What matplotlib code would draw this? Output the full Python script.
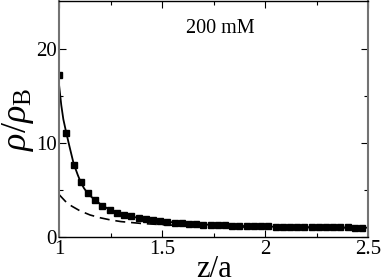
import matplotlib
matplotlib.use("Agg")
import matplotlib.pyplot as plt
import numpy as np

plt.rcParams['font.family'] = ['Liberation Serif', 'DejaVu Serif']
plt.rcParams['mathtext.fontset'] = 'custom'
plt.rcParams['mathtext.rm'] = 'Liberation Serif'
plt.rcParams['mathtext.it'] = 'Liberation Serif:italic'

# simulation points (squares)
z_sim = [1.000, 1.035, 1.070, 1.105, 1.140, 1.175, 1.210, 1.245, 1.280, 1.315,
         1.350, 1.385, 1.420, 1.455, 1.490, 1.525, 1.560, 1.595, 1.630, 1.665,
         1.700, 1.735, 1.770, 1.805, 1.840, 1.875, 1.910, 1.945, 1.980, 2.015,
         2.050, 2.085, 2.120, 2.155, 2.190, 2.225, 2.260, 2.295, 2.330, 2.365,
         2.400, 2.435, 2.470]
rho_sim = [17.2, 11.0, 7.7, 5.8, 4.65, 3.9, 3.35, 2.9, 2.6, 2.38,
           2.2, 2.05, 1.92, 1.8, 1.7, 1.62, 1.55, 1.48, 1.43, 1.38,
           1.34, 1.30, 1.27, 1.24, 1.22, 1.20, 1.18, 1.16, 1.14, 1.13,
           1.12, 1.10, 1.09, 1.08, 1.07, 1.06, 1.05, 1.05, 1.04, 1.03,
           1.03, 1.02, 1.02]

# theory (solid)
z_th = [1.0, 1.01, 1.02, 1.035, 1.05, 1.07, 1.09, 1.105, 1.12, 1.14, 1.175,
        1.21, 1.25, 1.3, 1.35, 1.4, 1.5, 1.6, 1.7, 1.8, 2.0, 2.2, 2.5]
rho_th = [16.0, 14.0, 12.5, 11.0, 9.6, 7.8, 6.6, 5.8, 5.2, 4.6, 3.9,
          3.35, 2.85, 2.45, 2.2, 1.97, 1.68, 1.47, 1.34, 1.24, 1.12, 1.06, 1.0]

# dashed curve
z_d = [1.0, 1.03, 1.06, 1.1, 1.15, 1.2, 1.25, 1.3, 1.4, 1.5, 1.6, 1.7, 1.85, 2.0, 2.25, 2.5]
rho_d = [4.5, 3.8, 3.3, 2.8, 2.35, 2.05, 1.82, 1.65, 1.45, 1.32, 1.22, 1.15, 1.08, 1.04, 1.01, 1.0]

fig = plt.figure(figsize=(3.82, 2.79), dpi=100)
ax = fig.add_axes([0.155, 0.15, 0.809, 0.845])

ax.plot(z_th, rho_th, '-', color='black', lw=1.3)
ax.plot(z_d, rho_d, '--', color='black', lw=1.2, dashes=(6, 3.5))
ax.plot(z_sim, rho_sim, 's', color='black', ms=4.5, ls='none')

ax.set_xlim(1, 2.5)
ax.set_ylim(0, 25)
ax.set_xticks([1, 1.5, 2, 2.5])
ax.set_xticklabels(['1', '1.5', '2', '2.5'])
ax.set_xticks([1.25, 1.75, 2.25], minor=True)
ax.set_yticks([0, 10, 20])
ax.set_yticks([5, 15], minor=True)
ax.tick_params(which='both', direction='in', top=True, right=True,
               labelsize=15, pad=2)
ax.tick_params(which='major', length=5, width=0.8)
ax.tick_params(which='minor', length=3, width=0.8)

for side in ['left', 'right']:
    ax.spines[side].set_color('0.45')
    ax.spines[side].set_linewidth(1.5)
for side in ['top', 'bottom']:
    ax.spines[side].set_color('black')
    ax.spines[side].set_linewidth(1.0)

ax.set_xlabel('z/a', fontsize=22, labelpad=-3)
ax.set_ylabel(r'$\rho/\rho_\mathrm{B}$', fontsize=26, labelpad=0)
ax.text(0.41, 0.865, '200 mM', transform=ax.transAxes, fontsize=14.5)

fig.savefig('out.png', dpi=100)
